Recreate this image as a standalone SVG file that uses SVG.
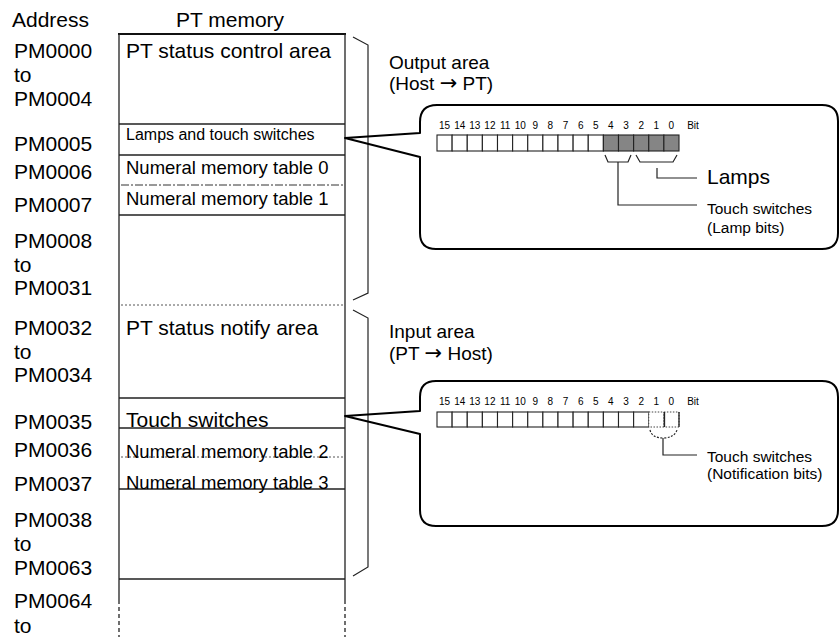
<svg xmlns="http://www.w3.org/2000/svg" width="839" height="637" viewBox="0 0 839 637">
<style>
text{font-family:"Liberation Sans",Arial,sans-serif;fill:#000}
.big{font-size:21px}
.mid{font-size:18.5px}
.sm{font-size:16px}
.lbl{font-size:15.5px}
.area{font-size:19px}
.arr{font-family:"DejaVu Sans",sans-serif;font-size:21px}
.bit{font-size:10px;text-anchor:middle}
.tl{stroke:#222;stroke-width:1.3;fill:none}
.dot{stroke:#555;stroke-width:1;stroke-dasharray:2 2;fill:none}
.callout{stroke:#000;stroke-width:2;fill:none;stroke-linejoin:round}
.brace{stroke:#222;stroke-width:1.2;fill:none}
.cell{stroke:#222;stroke-width:1.1;fill:#fff}
.shade{stroke:#222;stroke-width:1.1;fill:#858585}
.dcell{stroke:#444;stroke-width:1;stroke-dasharray:1.5 1.5;fill:#fff}
</style>

<g id="headers">
<text class="big" x="12" y="27">Address</text>
<text class="big" x="230" y="27" text-anchor="middle">PT memory</text>
</g>

<g id="addresses">
<text class="big" x="14" y="58">PM0000</text>
<text class="big" x="14" y="82">to</text>
<text class="big" x="14" y="106">PM0004</text>
<text class="big" x="14" y="151">PM0005</text>
<text class="big" x="14" y="179">PM0006</text>
<text class="big" x="14" y="212">PM0007</text>
<text class="big" x="14" y="248">PM0008</text>
<text class="big" x="14" y="272">to</text>
<text class="big" x="14" y="295">PM0031</text>
<text class="big" x="14" y="335">PM0032</text>
<text class="big" x="14" y="359">to</text>
<text class="big" x="14" y="382">PM0034</text>
<text class="big" x="14" y="429">PM0035</text>
<text class="big" x="14" y="457">PM0036</text>
<text class="big" x="14" y="491">PM0037</text>
<text class="big" x="14" y="527">PM0038</text>
<text class="big" x="14" y="551">to</text>
<text class="big" x="14" y="575">PM0063</text>
<text class="big" x="14" y="608">PM0064</text>
<text class="big" x="14" y="633">to</text>
</g>

<g id="memory-table">
<line x1="118" y1="34" x2="346" y2="34" stroke="#111" stroke-width="2"/>
<path class="tl" d="M119,34 V600 M345,34 V600"/>
<path class="tl" d="M119,600 V637 M345,600 V637" stroke-dasharray="4 3"/>
<path class="tl" d="M119,124 H345 M119,155 H345 M119,215 H345 M119,398 H345 M119,428 H345 M119,489 H345 M119,579 H345"/>
<line x1="121" y1="185" x2="343" y2="185" stroke="#333" stroke-width="1" stroke-dasharray="8 2 2 2"/>
<line class="dot" x1="121" y1="305" x2="343" y2="305"/>
<line class="dot" x1="121" y1="457" x2="343" y2="457"/>
</g>

<g id="row-status-control"><text class="big" x="126" y="58">PT status control area</text></g>
<g id="row-lamps"><text class="sm" x="126" y="140">Lamps and touch switches</text></g>
<g id="row-nmt0"><text class="mid" x="126" y="174">Numeral memory table 0</text></g>
<g id="row-nmt1"><text class="mid" x="126" y="205">Numeral memory table 1</text></g>
<g id="row-status-notify"><text class="big" x="126" y="335">PT status notify area</text></g>
<g id="row-touch"><text class="big" x="126" y="427">Touch switches</text></g>
<g id="row-nmt2"><text class="mid" x="126" y="458">Numeral memory table 2</text></g>
<g id="row-nmt3"><text class="mid" x="126" y="489">Numeral memory table 3</text></g>

<g id="braces">
<path class="brace" d="M353,37 L368,45 V293 L353,300"/>
<path class="brace" d="M353,310 L368,318 V567 L353,576"/>
</g>

<g id="area-labels">
<text class="area" x="389" y="69">Output area</text>
<text class="area" x="389" y="90">(Host <tspan class="arr">→</tspan> PT)</text>
<text class="area" x="389" y="338">Input area</text>
<text class="area" x="389" y="360">(PT <tspan class="arr">→</tspan> Host)</text>
</g>

<g id="output-callout">
<path class="callout" d="M345,138 L420,133 L420,122 Q420,105 437,105 L822,105 Q838,105 838,121 L838,233 Q838,249 822,249 L436,249 Q420,249 420,233 L420,157 Z"/>
<g id="output-register">
<rect class="cell" x="437" y="135" width="15.125" height="16"/>
<rect class="cell" x="452.125" y="135" width="15.125" height="16"/>
<rect class="cell" x="467.25" y="135" width="15.125" height="16"/>
<rect class="cell" x="482.375" y="135" width="15.125" height="16"/>
<rect class="cell" x="497.5" y="135" width="15.125" height="16"/>
<rect class="cell" x="512.625" y="135" width="15.125" height="16"/>
<rect class="cell" x="527.75" y="135" width="15.125" height="16"/>
<rect class="cell" x="542.875" y="135" width="15.125" height="16"/>
<rect class="cell" x="558" y="135" width="15.125" height="16"/>
<rect class="cell" x="573.125" y="135" width="15.125" height="16"/>
<rect class="cell" x="588.25" y="135" width="15.125" height="16"/>
<rect class="shade" x="603.375" y="135" width="15.125" height="16"/>
<rect class="shade" x="618.5" y="135" width="15.125" height="16"/>
<rect class="shade" x="633.625" y="135" width="15.125" height="16"/>
<rect class="shade" x="648.75" y="135" width="15.125" height="16"/>
<rect class="shade" x="663.875" y="135" width="15.125" height="16"/>
</g>
<g id="output-bits">
<text class="bit" x="444.6" y="129">15</text>
<text class="bit" x="459.7" y="129">14</text>
<text class="bit" x="474.8" y="129">13</text>
<text class="bit" x="489.9" y="129">12</text>
<text class="bit" x="505.1" y="129">11</text>
<text class="bit" x="520.2" y="129">10</text>
<text class="bit" x="535.3" y="129">9</text>
<text class="bit" x="550.4" y="129">8</text>
<text class="bit" x="565.6" y="129">7</text>
<text class="bit" x="580.7" y="129">6</text>
<text class="bit" x="595.8" y="129">5</text>
<text class="bit" x="610.9" y="129">4</text>
<text class="bit" x="626.1" y="129">3</text>
<text class="bit" x="641.2" y="129">2</text>
<text class="bit" x="656.3" y="129">1</text>
<text class="bit" x="671.4" y="129">0</text>
<text class="bit" x="693" y="129">Bit</text>
</g>
</g>

<g id="connectors">
<path class="brace" d="M605,155 L608,162 H628 L631,155"/>
<path class="brace" d="M636,155 L640,162 H673 L677,155"/>
<path class="brace" d="M618,162 V205 H697"/>
<path class="brace" d="M657,168 V178 H697"/>
<path class="brace" d="M650,430 Q652,438 663,438 Q674,438 677,430" stroke-dasharray="2 1.5"/>
<path class="brace" d="M663,438 V455 H697"/>
</g>

<g id="output-labels">
<text class="big" x="707" y="184">Lamps</text>
<text class="lbl" x="707" y="214">Touch switches</text>
<text class="lbl" x="707" y="233">(Lamp bits)</text>
</g>

<g id="input-callout">
<path class="callout" d="M345,416 L420,411 L420,397 Q420,381 436,381 L822,381 Q838,381 838,397 L838,510 Q838,526 822,526 L436,526 Q420,526 420,510 L420,434 Z"/>
<g id="input-register">
<rect class="cell" x="437" y="412" width="15.125" height="15"/>
<rect class="cell" x="452.125" y="412" width="15.125" height="15"/>
<rect class="cell" x="467.25" y="412" width="15.125" height="15"/>
<rect class="cell" x="482.375" y="412" width="15.125" height="15"/>
<rect class="cell" x="497.5" y="412" width="15.125" height="15"/>
<rect class="cell" x="512.625" y="412" width="15.125" height="15"/>
<rect class="cell" x="527.75" y="412" width="15.125" height="15"/>
<rect class="cell" x="542.875" y="412" width="15.125" height="15"/>
<rect class="cell" x="558" y="412" width="15.125" height="15"/>
<rect class="cell" x="573.125" y="412" width="15.125" height="15"/>
<rect class="cell" x="588.25" y="412" width="15.125" height="15"/>
<rect class="cell" x="603.375" y="412" width="15.125" height="15"/>
<rect class="cell" x="618.5" y="412" width="15.125" height="15"/>
<rect class="cell" x="633.625" y="412" width="15.125" height="15"/>
<rect class="dcell" x="648.75" y="412" width="15.125" height="15"/>
<rect class="dcell" x="663.875" y="412" width="15.125" height="15"/>
<path class="tl" d="M664.5,412 V427 M679,412 V427"/>
</g>
<g id="input-bits">
<text class="bit" x="444.6" y="405">15</text>
<text class="bit" x="459.7" y="405">14</text>
<text class="bit" x="474.8" y="405">13</text>
<text class="bit" x="489.9" y="405">12</text>
<text class="bit" x="505.1" y="405">11</text>
<text class="bit" x="520.2" y="405">10</text>
<text class="bit" x="535.3" y="405">9</text>
<text class="bit" x="550.4" y="405">8</text>
<text class="bit" x="565.6" y="405">7</text>
<text class="bit" x="580.7" y="405">6</text>
<text class="bit" x="595.8" y="405">5</text>
<text class="bit" x="610.9" y="405">4</text>
<text class="bit" x="626.1" y="405">3</text>
<text class="bit" x="641.2" y="405">2</text>
<text class="bit" x="656.3" y="405">1</text>
<text class="bit" x="671.4" y="405">0</text>
<text class="bit" x="693" y="405">Bit</text>
</g>
</g>

<g id="input-labels">
<text class="lbl" x="707" y="462">Touch switches</text>
<text class="lbl" x="707" y="479">(Notification bits)</text>
</g>
</svg>
